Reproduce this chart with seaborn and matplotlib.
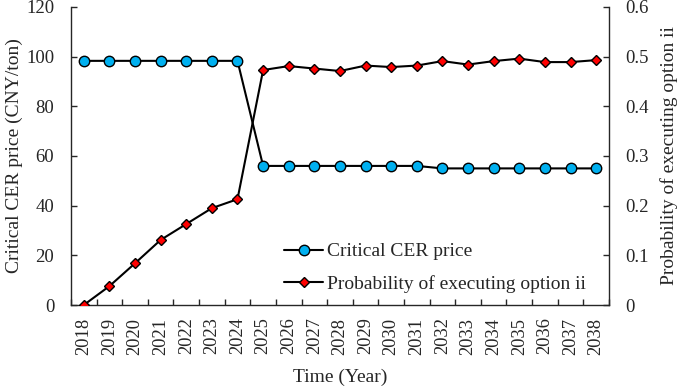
import matplotlib
matplotlib.use("Agg")
import matplotlib.pyplot as plt
import seaborn as sns
import numpy as np
import pandas as pd

years = [str(y) for y in range(2018, 2039)]
cer_price = [98.3, 98.3, 98.3, 98.3, 98.3, 98.3, 98.3,
             56.0, 56.0, 56.0, 56.0, 56.0, 56.0, 56.0,
             55.0, 55.0, 55.0, 55.0, 55.0, 55.0, 55.0]
prob_option_ii = [0.0, 0.038, 0.084, 0.131, 0.163, 0.195, 0.213,
                  0.473, 0.481, 0.476, 0.471, 0.482, 0.479, 0.482,
                  0.491, 0.484, 0.491, 0.496, 0.489, 0.489, 0.493]

sns.set_style("ticks")
plt.rcParams["font.family"] = ["Liberation Serif", "DejaVu Serif"]
plt.rcParams["font.size"] = 13.5

df = pd.DataFrame({"pos": np.arange(len(years)), "price": cer_price, "prob": prob_option_ii})

fig = plt.figure(figsize=(6.85, 3.86), dpi=100)
ax = fig.add_axes([0.1036, 0.2098, 0.7854, 0.7722])
ax2 = ax.twinx()

sns.lineplot(data=df, x="pos", y="price", ax=ax, color="black", lw=1.5,
             marker="o", markersize=7.5, markerfacecolor="#00B0F0",
             markeredgecolor="black", markeredgewidth=1.0,
             label="Critical CER price", legend=False)
sns.lineplot(data=df, x="pos", y="prob", ax=ax2, color="black", lw=1.5,
             marker="D", markersize=5.5, markerfacecolor="#FF0000",
             markeredgecolor="black", markeredgewidth=1.0,
             label="Probability of executing option ii", legend=False)

ax.set_xlim(-0.5, len(years) - 0.5)
ax.set_ylim(0, 120)
ax2.set_ylim(0, 0.6)
ax.set_yticks(np.arange(0, 121, 20))
ax2.set_yticks(np.arange(0, 0.61, 0.1))
ax2.set_yticklabels(["0", "0.1", "0.2", "0.3", "0.4", "0.5", "0.6"])

# year labels at centres, tick marks at category boundaries
ax.set_xticks(np.arange(len(years)))
ax.set_xticklabels(years, rotation=90)
ax.tick_params(axis="x", which="major", length=0, pad=9, labelsize=13.3)
ax.set_xticks(np.arange(len(years) + 1) - 0.5, minor=True)
ax.tick_params(axis="x", which="minor", direction="in", length=4, width=1)
ax.tick_params(axis="y", direction="in", length=4, width=1, pad=12, labelsize=13.5)
ax2.tick_params(axis="y", direction="in", length=4, width=1, pad=12, labelsize=13.5)

for a in (ax, ax2):
    a.spines["top"].set_visible(False)
    for s in ("left", "right", "bottom"):
        a.spines[s].set_linewidth(1.0)
ax.spines["right"].set_visible(False)
ax2.spines["left"].set_visible(False)
ax2.spines["bottom"].set_visible(False)

ax.set_xlabel("Time (Year)", fontsize=14, labelpad=10)
ax.set_ylabel("Critical CER price (CNY/ton)", fontsize=14, labelpad=2)
ax2.set_ylabel("Probability of executing option ii", fontsize=14, labelpad=8)

h1, l1 = ax.get_legend_handles_labels()
h2, l2 = ax2.get_legend_handles_labels()
ax2.legend(h1 + h2, l1 + l2, loc="lower right", bbox_to_anchor=(0.99, -0.018),
           frameon=False, fontsize=14, handlelength=2.0, handletextpad=0.2,
           labelspacing=0.75)

fig.savefig("out.png", dpi=100)
